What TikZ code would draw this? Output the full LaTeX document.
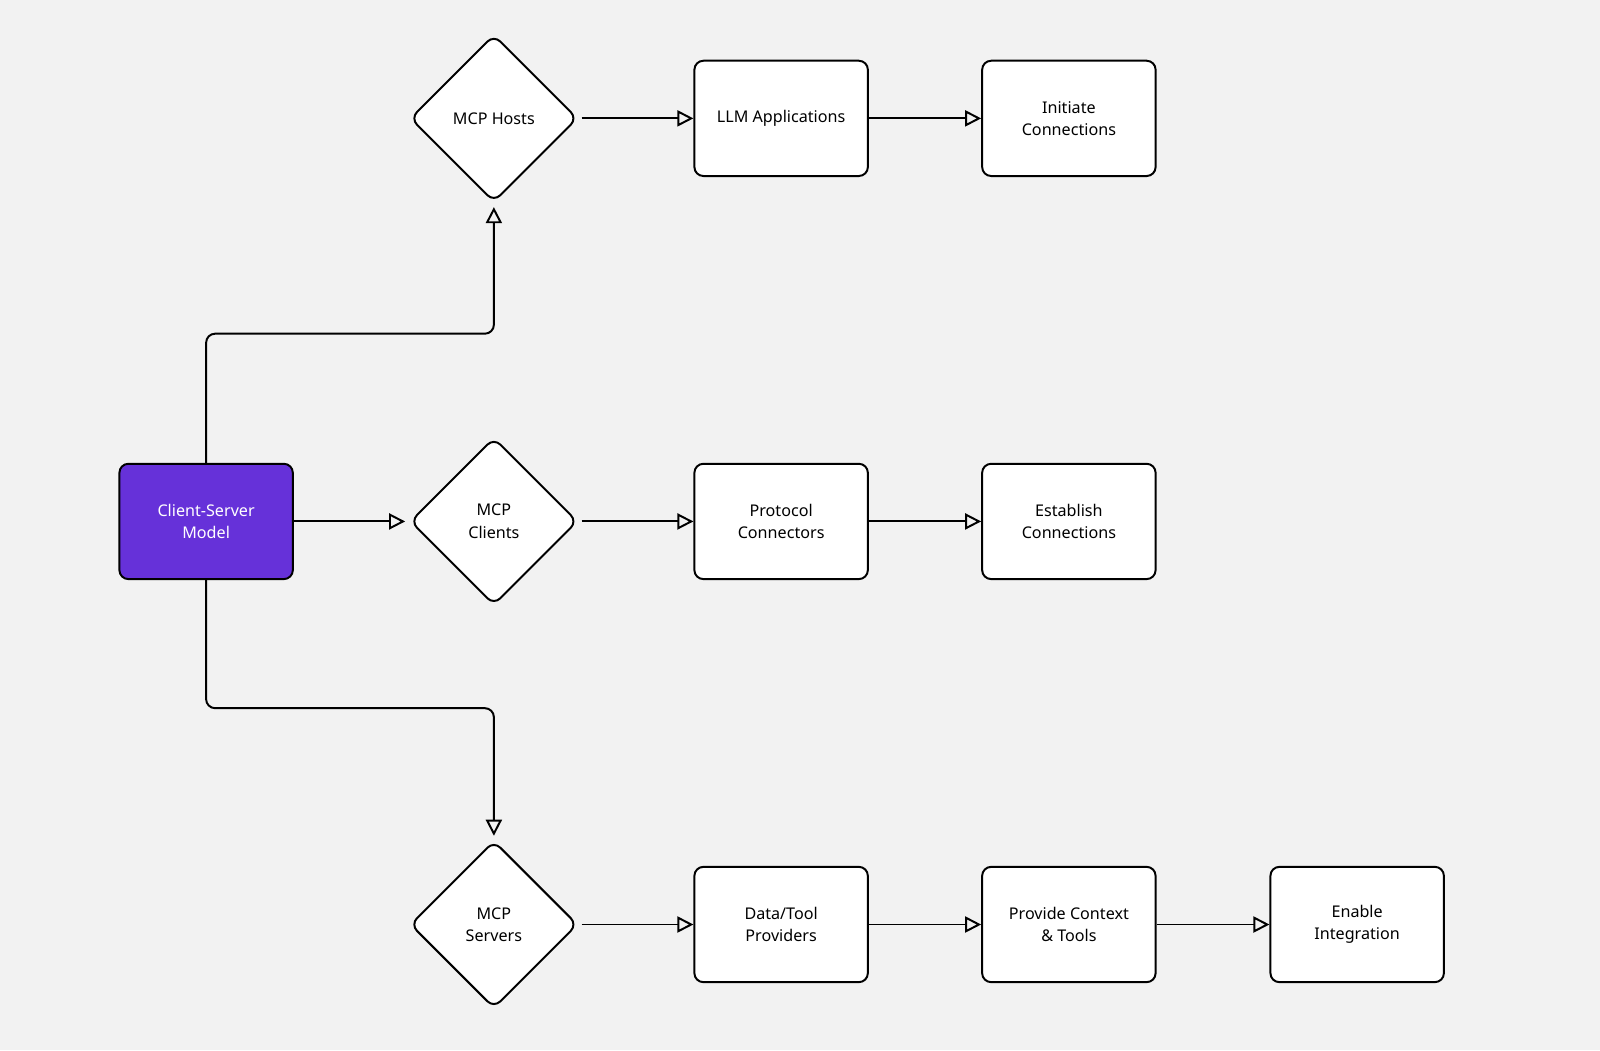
\documentclass[tikz,border=0pt]{standalone}
\usepackage{fontspec}
\setmainfont{Noto Sans}
\usetikzlibrary{arrows.meta,shapes.geometric}
\definecolor{bg}{HTML}{F2F2F2}
\definecolor{purp}{HTML}{6631D9}
\begin{document}
\begin{tikzpicture}[x=0.02cm,y=-0.02cm,
  every node/.style={font=\fontsize{9}{12.5}\selectfont,align=center},
  box/.style={draw,line width=1.1pt,rounded corners=5pt,fill=white,minimum width=3.4cm,minimum height=2.26cm,inner sep=0pt},
  dia/.style={draw,line width=1.1pt,diamond,rounded corners=5pt,fill=white,minimum width=3.28cm,minimum height=3.28cm,inner sep=0pt},
  arr/.style={line width=1.1pt,-{Triangle[open,length=9pt,width=9pt]},rounded corners=5pt}]
\fill[bg] (0,0) rectangle (1568,1029);
\useasboundingbox (0,0) rectangle (1568,1029);
\node[box,fill=purp,text=white] (cs) at (202,511) {Client-Server\\Model};
\node[dia] (h) at (484,116) {MCP Hosts};
\node[dia] (c) at (484,511) {MCP\\Clients};
\node[dia] (s) at (484,906) {MCP\\Servers};
\node[box] (llm) at (765.5,116) {LLM Applications};
\node[box] (ini) at (1047.5,116) {Initiate\\Connections};
\node[box] (pc) at (765.5,511) {Protocol\\Connectors};
\node[box] (est) at (1047.5,511) {Establish\\Connections};
\node[box] (dt) at (765.5,906) {Data/Tool\\Providers};
\node[box] (pct) at (1047.5,906) {Provide Context\\\& Tools};
\node[box] (en) at (1330,906) {Enable\\Integration};
\draw[arr] (cs.north) -- (202,327) -- (484,327) -- ([yshift=-0.08cm]h.south);
\draw[arr] (cs.south) -- (202,694) -- (484,694) -- ([yshift=0.08cm]s.north);
\draw[arr] (cs) -- ([xshift=-0.08cm]c.west);
\draw[arr] ([xshift=0.06cm]h.east) -- (llm);
\draw[arr] (llm) -- (ini);
\draw[arr] ([xshift=0.06cm]c.east) -- (pc);
\draw[arr] (pc) -- (est);
\draw[arr] ([xshift=0.06cm]s.east) -- (dt);
\draw[arr] (dt) -- (pct);
\draw[arr] (pct) -- (en);
\end{tikzpicture}
\end{document}
